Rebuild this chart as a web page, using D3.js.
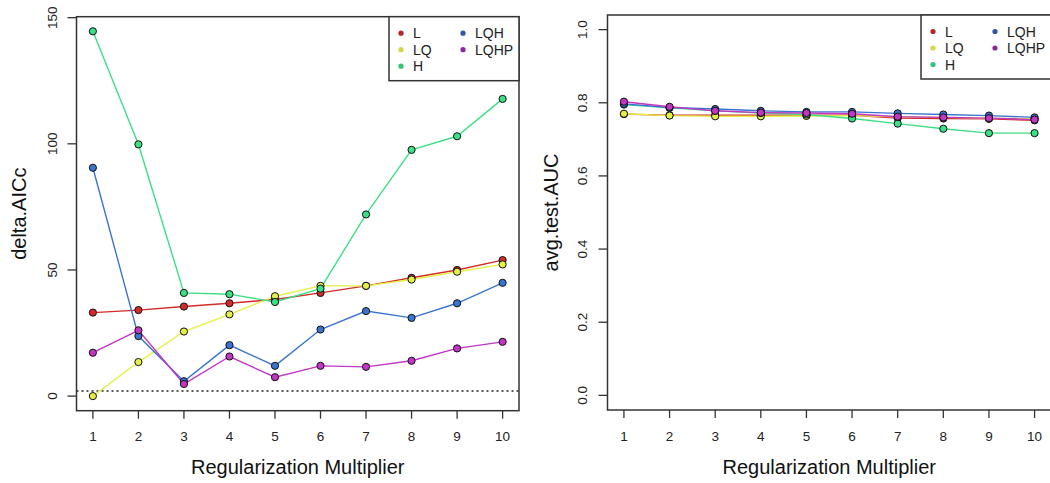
<!DOCTYPE html>
<html>
<head>
<meta charset="utf-8">
<script src="https://cdn.jsdelivr.net/npm/d3@7"></script>
<style>
  body { margin: 0; background: #fff; }
  svg { display: block; font-family: 'Liberation Sans', Arial, sans-serif; }
</style>
</head>
<body>
<div id="chart"></div>
<script>
const width = 1050;
const height = 483;

// regularization multipliers
const multipliers = [1, 2, 3, 4, 5, 6, 7, 8, 9, 10];
const seriesNames = ['L', 'LQ', 'H', 'LQH', 'LQHP'];
const lineColors = ['#d42a2a', '#e4f046', '#3ddf86', '#3a74d0', '#c236c6'];
const dotColors = ['#b3262b', '#d4d650', '#35c27a', '#2d56a8', '#8a2aa0'];

// delta.AICc per series
const aiccL = [33.1, 34.1, 35.5, 36.8, 38.3, 40.9, 43.7, 46.9, 50.0, 53.9];
const aiccLQ = [0.0, 13.5, 25.6, 32.4, 39.6, 43.7, 43.7, 46.2, 49.3, 52.2];
const aiccH = [144.6, 99.8, 40.9, 40.4, 37.3, 42.6, 72.0, 97.6, 103.0, 117.8];
const aiccLQH = [90.5, 23.8, 5.9, 20.2, 12.0, 26.4, 33.7, 31.0, 36.8, 44.9];
const aiccLQHP = [17.2, 26.1, 4.8, 15.7, 7.5, 12.0, 11.6, 14.0, 18.9, 21.5];

// avg.test.AUC per series
const aucL = [0.769, 0.766, 0.766, 0.766, 0.766, 0.766, 0.758, 0.757, 0.756, 0.752];
const aucLQ = [0.770, 0.765, 0.763, 0.763, 0.764, 0.765, 0.762, 0.760, 0.758, 0.756];
const aucH = [0.795, 0.786, 0.778, 0.772, 0.768, 0.757, 0.743, 0.729, 0.717, 0.717];
const aucLQH = [0.797, 0.787, 0.783, 0.778, 0.775, 0.775, 0.771, 0.768, 0.765, 0.760];
const aucLQHP = [0.803, 0.789, 0.778, 0.773, 0.772, 0.770, 0.762, 0.760, 0.758, 0.754];

const aiccTicks = [0, 50, 100, 150];
const aucTicks = [0.0, 0.2, 0.4, 0.6, 0.8, 1.0];
const aiccThreshold = 2;

const axisColor = '#333';

const svg = d3.select('#chart').append('svg').attr('width', width).attr('height', height);

// R style padding: 4% on each side of the data range
const padExtent = ([a, b]) => {
  const p = (b - a) * 0.04;
  return [a - p, b + p];
};

const drawPanel = ({ left, right, top, bottom, yDomain, yTicks, yFormat, series, yTitle, yTitleX, yLabelX, hline }) => {
  const x = d3.scaleLinear().domain(padExtent([1, 10])).range([left, right]);
  const y = d3.scaleLinear().domain(yDomain).range([bottom, top]);

  const g = svg.append('g');

  // x axis ticks
  g.append('g')
    .selectAll('line')
    .data(multipliers)
    .join('line')
    .attr('x1', (d) => x(d))
    .attr('x2', (d) => x(d))
    .attr('y1', bottom)
    .attr('y2', bottom + 8)
    .attr('stroke', axisColor)
    .attr('stroke-width', 1.3);

  g.append('g')
    .selectAll('text')
    .data(multipliers)
    .join('text')
    .attr('x', (d) => x(d))
    .attr('y', bottom + 26)
    .attr('text-anchor', 'middle')
    .attr('dominant-baseline', 'central')
    .style('font-size', '13.5px')
    .attr('fill', '#222')
    .text((d) => d);

  // y axis ticks
  g.append('g')
    .selectAll('line')
    .data(yTicks)
    .join('line')
    .attr('x1', left - 9)
    .attr('x2', left)
    .attr('y1', (d) => y(d))
    .attr('y2', (d) => y(d))
    .attr('stroke', axisColor)
    .attr('stroke-width', 1.3);

  g.append('g')
    .selectAll('text')
    .data(yTicks)
    .join('text')
    .attr('transform', (d) => `translate(${yLabelX}, ${y(d)}) rotate(-90)`)
    .attr('text-anchor', 'middle')
    .attr('dominant-baseline', 'central')
    .style('font-size', '13.5px')
    .attr('fill', '#222')
    .text(yFormat);

  // axis titles
  g.append('text')
    .attr('x', (left + right) / 2)
    .attr('y', 467)
    .attr('text-anchor', 'middle')
    .attr('dominant-baseline', 'central')
    .style('font-size', '20px')
    .attr('fill', '#111')
    .text('Regularization Multiplier');

  g.append('text')
    .attr('transform', `translate(${yTitleX}, ${(top + bottom) / 2}) rotate(-90)`)
    .attr('text-anchor', 'middle')
    .attr('dominant-baseline', 'central')
    .style('font-size', '20px')
    .attr('fill', '#111')
    .text(yTitle);

  if (hline !== undefined) {
    g.append('line')
      .attr('x1', left)
      .attr('x2', right)
      .attr('y1', y(hline))
      .attr('y2', y(hline))
      .attr('stroke', '#222')
      .attr('stroke-width', 1.4)
      .attr('stroke-dasharray', '2,3');
  }

  const line = d3
    .line()
    .x((d, i) => x(multipliers[i]))
    .y((d) => y(d));

  series.forEach((values, k) => {
    g.append('path')
      .datum(values)
      .attr('fill', 'none')
      .attr('stroke', lineColors[k])
      .attr('stroke-width', 1.4)
      .attr('d', line);
  });

  series.forEach((values, k) => {
    g.append('g')
      .selectAll('circle')
      .data(values)
      .join('circle')
      .attr('cx', (d, i) => x(multipliers[i]))
      .attr('cy', (d) => y(d))
      .attr('r', 3.6)
      .attr('fill', lineColors[k])
      .attr('stroke', '#111')
      .attr('stroke-width', 1);
  });

  // plot box
  g.append('rect')
    .attr('x', left)
    .attr('y', top)
    .attr('width', right - left)
    .attr('height', bottom - top)
    .attr('fill', 'none')
    .attr('stroke', axisColor)
    .attr('stroke-width', 1.5);

  // legend
  const legW = 130;
  const legH = 64;
  const lg = g.append('g').attr('transform', `translate(${right - legW}, ${top})`);
  lg.append('rect')
    .attr('width', legW)
    .attr('height', legH)
    .attr('fill', '#fff')
    .attr('stroke', axisColor)
    .attr('stroke-width', 1.5);

  seriesNames.forEach((name, k) => {
    const col = k < 3 ? 0 : 1;
    const row = k < 3 ? k : k - 3;
    const ex = 12 + col * 62;
    const ey = 16.5 + row * 16.5;
    lg.append('circle').attr('cx', ex).attr('cy', ey).attr('r', 2.6).attr('fill', dotColors[k]);
    lg.append('text')
      .attr('x', ex + 12)
      .attr('y', ey)
      .attr('dominant-baseline', 'central')
      .style('font-size', '14px')
      .attr('fill', '#222')
      .text(name);
  });
};

drawPanel({
  left: 76.5,
  right: 519,
  top: 16.7,
  bottom: 410.7,
  yDomain: padExtent(d3.extent([...aiccL, ...aiccLQ, ...aiccH, ...aiccLQH, ...aiccLQHP])),
  yTicks: aiccTicks,
  yFormat: (d) => d,
  series: [aiccL, aiccLQ, aiccH, aiccLQH, aiccLQHP],
  yTitle: 'delta.AICc',
  yTitleX: 19,
  yLabelX: 52,
  hline: aiccThreshold,
});

drawPanel({
  left: 607.5,
  right: 1051,
  top: 15,
  bottom: 410,
  yDomain: padExtent([0, 1]),
  yTicks: aucTicks,
  yFormat: d3.format('.1f'),
  series: [aucL, aucLQ, aucH, aucLQH, aucLQHP],
  yTitle: 'avg.test.AUC',
  yTitleX: 551,
  yLabelX: 582,
});
</script>
</body>
</html>
